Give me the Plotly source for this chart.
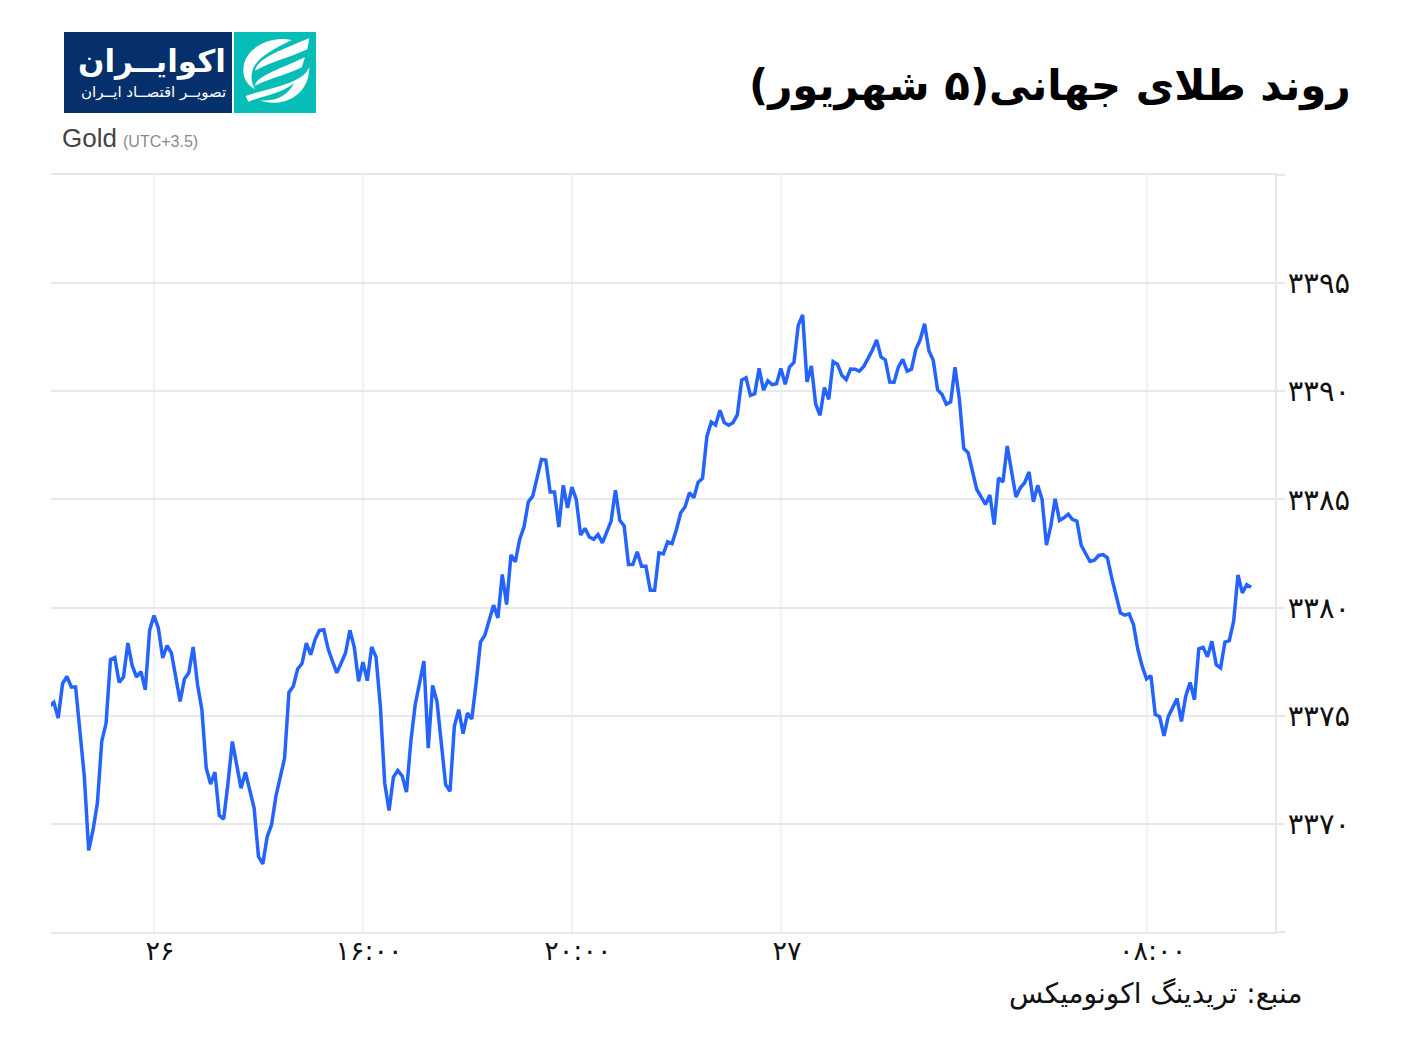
import plotly.graph_objects as go

W, H = 1406, 1040
PL, PR, PT, PB = 51, 1275, 175, 932

gold = [
3375.45,3375.62,3374.89,3376.48,3376.82,3376.33,3376.33,3374.04,3372.19,3368.77,
3369.72,3370.96,3373.81,3374.66,3377.59,3377.69,3376.54,3376.79,3378.36,3377.31,
3376.79,3377.04,3376.20,3378.95,3379.63,3379.06,3377.67,3378.24,3377.90,3376.79,
3375.66,3376.70,3376.98,3378.18,3376.44,3375.28,3372.58,3371.84,3372.39,3370.39,
3370.22,3371.88,3373.81,3372.73,3371.65,3372.39,3371.57,3370.73,3368.49,3368.15,
3369.41,3369.95,3371.27,3372.11,3373.04,3376.08,3376.36,3377.16,3377.41,3378.36,
3377.82,3378.52,3378.95,3378.98,3378.09,3377.52,3376.98,
3377.44,3377.90,3378.95,3378.18,3376.59,3377.48,3376.62,3378.18,3377.72,3375.43,
3371.88,3370.62,3372.16,3372.47,3372.22,3371.47,3373.81,3375.51,3376.51,3377.53,
3373.50,3376.40,3375.66,3373.73,3371.81,3371.50,3374.51,3375.28,3374.17,3375.12,
3374.85,3376.51,3378.40,3378.72,3379.37,3380.11,3379.52,3381.53,3380.14,3382.44,
3382.11,3383.15,3383.73,3384.89,3385.15,3385.93,3386.85,3386.82,3385.34,3385.34,
3383.72,3385.65,3384.61,3385.57,3385.00,3383.35,3383.66,3383.26,3383.16,3383.38,
3382.99,3383.49,3384.00,3385.43,3384.04,3383.77,3381.99,
3381.99,3382.58,3381.91,3381.91,3380.80,3380.80,3382.53,3382.48,3383.04,3382.96,
3383.61,3384.38,3384.66,3385.31,3385.08,3385.80,3385.97,3387.90,3388.58,3388.44,
3389.12,3388.55,3388.43,3388.55,3388.92,3390.52,3390.62,3389.81,3389.89,3391.06,
3390.05,3390.48,3390.31,3390.35,3391.06,3390.32,3391.13,3391.33,3393.06,3393.53,
3390.43,3391.17,3389.40,3388.89,3390.17,3389.63,3391.37,3391.25,3390.74,3390.54,
3391.03,3391.02,3390.93,3391.14,3391.51,3391.90,3392.38,3391.59,3391.45,3390.43,
3390.42,3391.13,3391.48,3390.93,3391.02,3391.94,3392.38,3393.12,3391.87,3391.44,
3390.06,3389.86,3389.40,3389.51,3391.11,3389.63,
3387.36,3387.16,3386.31,3385.46,3385.12,3384.77,3385.20,3383.84,3386.00,3385.80,
3387.47,3386.23,3385.11,3385.54,3385.77,3386.27,3384.89,3385.65,3385.00,3382.89,
3383.77,3385.03,3384.03,3384.15,3384.32,3384.07,3384.00,3382.87,3382.50,3382.13,
3382.19,3382.41,3382.45,3382.30,3381.37,3380.60,3379.75,3379.65,3379.71,3379.21,
3378.06,3377.28,3376.70,3376.85,3375.05,3374.95,3374.07,3374.97,3375.35,3375.79,
3374.74,3375.90,3376.54,3375.74,3378.09,3378.16,3377.73,3378.44,3377.36,3377.21,
3378.40,3378.47,3379.37,3381.51,3380.68,3381.06,3380.94,
]
periods = list(range(len(gold)))

x_tick_vals = [24, 72, 120, 168, 252]
x_tick_text = ["۲۶", "۱۶:۰۰", "۲۰:۰۰", "۲۷", "۰۸:۰۰"]
y_tick_vals = [3365, 3370, 3375, 3380, 3385, 3390, 3395, 3400]
y_tick_text = ["", "۳۳۷۰", "۳۳۷۵", "۳۳۸۰", "۳۳۸۵", "۳۳۹۰", "۳۳۹۵", ""]

title_text = "روند طلای جهانی(۵ شهریور)"
source_text = "منبع: تریدینگ اکونومیکس"
logo_main = "اکوایــران"
logo_sub = "تصویــر اقتصــاد ایــران"

FA = "DejaVu Sans"


def px(x):
    return (x - PL) / (PR - PL)


def py(y):
    return (PB - y) / (PB - PT)


def rect(x0, y0, x1, y1, color):
    return dict(type="rect", xref="paper", yref="paper", x0=px(x0), x1=px(x1),
                y0=py(y1), y1=py(y0), fillcolor=color, line_width=0, layer="above")


def logo_path(cmds):
    # logo artwork outlines, in 3x crop pixels of the reference
    parts = []
    for c in cmds:
        parts.append(c[0] + " " + " ".join(
            f"{px(40 + c[i] / 3):.5f},{py(20 + c[i + 1] / 3):.5f}" for i in range(1, len(c), 2)))
    return dict(type="path", xref="paper", yref="paper", path=" ".join(parts) + " Z",
                fillcolor="white", line_width=0, layer="above")


icon = [
    [("M", 755, 60), ("C", 690, 45, 610, 85, 610, 150), ("C", 610, 175, 622, 195, 645, 208),
     ("C", 632, 185, 630, 160, 645, 135), ("C", 665, 105, 705, 85, 755, 60)],
    [("M", 808, 54), ("L", 802, 88), ("C", 750, 112, 695, 125, 645, 152), ("C", 655, 115, 700, 100, 808, 54)],
    [("M", 795, 112), ("L", 785, 142), ("C", 740, 165, 690, 175, 645, 197), ("C", 650, 170, 700, 155, 795, 112)],
    [("M", 808, 140), ("C", 790, 190, 700, 200, 617, 228), ("L", 625, 245),
     ("C", 670, 228, 720, 222, 762, 190), ("C", 745, 225, 705, 248, 660, 240),
     ("C", 700, 262, 808, 245, 808, 140)],
]

fig = go.Figure()
fig.add_trace(go.Scatter(x=periods, y=gold, mode="lines",
                         line=dict(color="#2563ff", width=3.5), hoverinfo="skip"))


def ann(text, x, y, size, color, family, xanchor="left", yanchor="middle", weight="normal"):
    return dict(text=text, x=px(x), y=py(y), xref="paper", yref="paper", showarrow=False,
                xanchor=xanchor, yanchor=yanchor,
                font=dict(size=size, color=color, family=family, weight=weight))


fig.update_layout(
    width=W, height=H, autosize=False,
    margin=dict(l=PL, r=W - PR, t=PT, b=H - PB, pad=0),
    paper_bgcolor="white", plot_bgcolor="white", showlegend=False,
    xaxis=dict(range=[0.345, 281.5], tickmode="array", tickvals=x_tick_vals, ticktext=x_tick_text,
               showgrid=True, gridcolor="#eef3f7", gridwidth=2, zeroline=False,
               showline=True, mirror=True, linecolor="#e7e8ea", linewidth=2,
               ticks="", ticklabelshift=6, ticklabelstandoff=-6,
               tickfont=dict(family=FA, size=27, color="#111111")),
    yaxis=dict(range=[3365, 3400], side="right", tickmode="array", tickvals=y_tick_vals,
               ticktext=y_tick_text, showgrid=True, gridcolor="#e7e8ea", gridwidth=2,
               zeroline=False, showline=True, linecolor="#e7e8ea", linewidth=2,
               ticks="outside", ticklen=8, tickwidth=2, tickcolor="#e7e8ea", ticklabelstandoff=-3,
               tickfont=dict(family=FA, size=29, color="#111111")),
    shapes=[rect(64, 32, 232, 113, "#06306b"), rect(234, 32, 316, 113, "#07bdb8")]
    + [logo_path(g) for g in icon],
    annotations=[
        ann(title_text, 1353, 86, 42, "#000000", FA, "right", weight="bold"),
        ann(source_text, 1305, 993, 28, "#111111", FA, "right"),
        ann(logo_main, 228, 61, 31, "white", FA, "right", weight="bold"),
        ann(logo_sub, 228, 92, 15, "white", FA, "right"),
        ann("Gold", 60, 138, 26, "#444444", "Liberation Sans"),
        ann("(UTC+3.5)", 121, 142, 16, "#8a8a8a", "Liberation Sans"),
    ],
)

fig.write_html("out.html", config=dict(displayModeBar=False),
               post_script="document.body.style.margin='0';")
